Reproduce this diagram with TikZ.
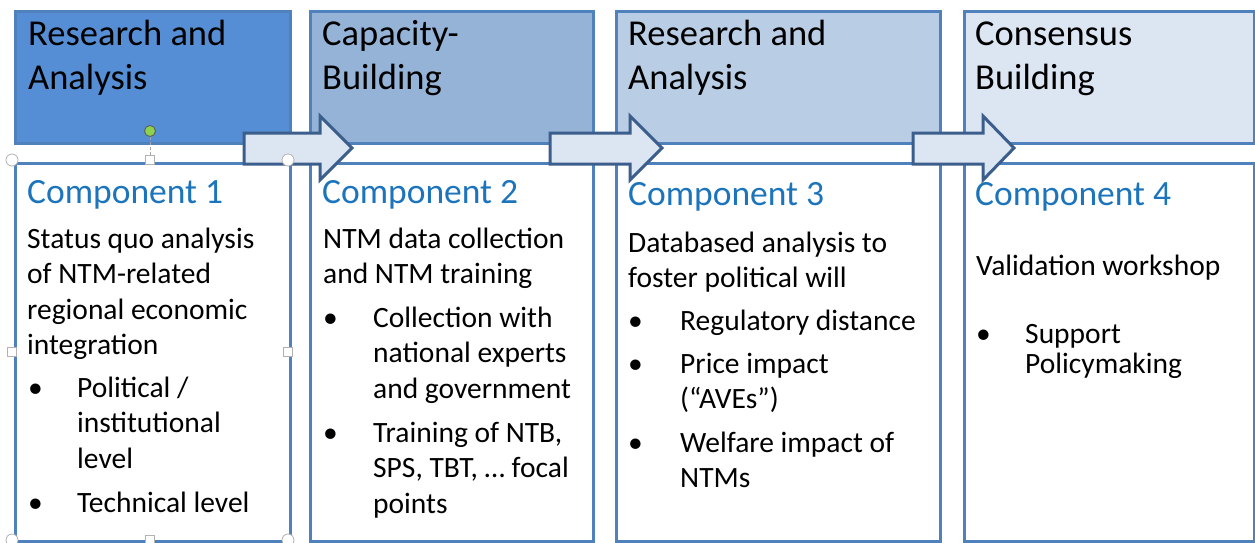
\documentclass[tikz,border=0pt]{standalone}
\usepackage{fontspec}
\setmainfont{Carlito}
\usetikzlibrary{positioning}
\definecolor{frameblue}{HTML}{4F81BD}
\definecolor{headA}{HTML}{558ED5}
\definecolor{headB}{HTML}{95B3D7}
\definecolor{headC}{HTML}{B9CDE5}
\definecolor{headD}{HTML}{DCE6F2}
\definecolor{compblue}{HTML}{1C75BC}
\definecolor{arrowline}{HTML}{3B5E8C}
\definecolor{arrowfill}{HTML}{DCE6F2}
\definecolor{grip}{HTML}{8DD14F}
% multi-line nodes are placed at the baseline of their last line
\tikzset{
  head/.style={draw=frameblue, line width=3pt, anchor=north west, inner sep=0pt},
  panel/.style={draw=frameblue, line width=3pt, fill=white, anchor=north west, inner sep=0pt},
  headtext/.style={anchor=base west, inner sep=0pt, align=left, font=\fontsize{36.5}{44}\selectfont},
  comptext/.style={anchor=base west, inner sep=0pt, text=compblue, font=\fontsize{35.5}{40}\selectfont},
  bodytext/.style={anchor=base west, inner sep=0pt, align=left, font=\fontsize{29.5}{35.5}\selectfont},
  flowarrow/.style={draw=arrowline, fill=arrowfill, line width=3pt, line join=miter},
  handle/.style={draw=gray!60, fill=white, line width=0.8pt}
}
\begin{document}
\begin{tikzpicture}[x=1pt,y=-1pt]
   \useasboundingbox (0,0) rectangle (1255,542);
   % phase headers
   \node[head, fill=headA, minimum width=275pt, minimum height=132pt] (h1) at (13.5,9.5) {};
   \node[head, fill=headB, minimum width=283pt, minimum height=132pt] (h2) at (308.5,9.5) {};
   \node[head, fill=headC, minimum width=324pt, minimum height=132pt] (h3) at (614.5,9.5) {};
   \node[head, fill=headD, minimum width=290pt, minimum height=132pt] (h4) at (962.5,9.5) {};
   \node[headtext] (t1) at (28,89) {Research and\\Analysis};
   \node[headtext] (t2) at (322,89) {Capacity-\\Building};
   \node[headtext] (t3) at (628,89) {Research and\\Analysis};
   \node[headtext] (t4) at (975,89) {Consensus\\Building};
   % component panels
   \node[panel, minimum width=275pt, minimum height=378pt] (c1) at (13.5,161.5) {};
   \node[panel, minimum width=283pt, minimum height=378pt] (c2) at (308.5,161.5) {};
   \node[panel, minimum width=324pt, minimum height=378pt] (c3) at (614.5,161.5) {};
   \node[panel, minimum width=290pt, minimum height=378pt] (c4) at (962.5,161.5) {};
   % component 1
   \node[comptext] (k1) at (27,203) {Component 1};
   \node[bodytext] (p1) at (27,354.5) {Status quo analysis\\of NTM-related\\regional economic\\integration};
   \node[bodytext] (b1a) at (28,397) {•};
   \node[bodytext] (i1a) at (77,468) {Political /\\institutional\\level};
   \node[bodytext] (b1b) at (28,512) {•};
   \node[bodytext] (i1b) at (77,512) {Technical level};
   % component 2
   \node[comptext] (k2) at (322,203) {Component 2};
   \node[bodytext] (p2) at (323,283.5) {NTM data collection\\and NTM training};
   \node[bodytext] (b2a) at (323,327) {•};
   \node[bodytext] (i2a) at (373,398) {Collection with\\national experts\\and government};
   \node[bodytext] (b2b) at (323,442) {•};
   \node[bodytext] (i2b) at (373,513) {Training of NTB,\\SPS, TBT, … focal\\points};
   % component 3
   \node[comptext] (k3) at (628,205) {Component 3};
   \node[bodytext] (p3) at (628,287.5) {Databased analysis to\\foster political will};
   \node[bodytext] (b3a) at (628,330) {•};
   \node[bodytext] (i3a) at (680,330) {Regulatory distance};
   \node[bodytext] (b3b) at (628,373) {•};
   \node[bodytext] (i3b) at (680,408.5) {Price impact\\(“AVEs”)};
   \node[bodytext] (b3c) at (628,452) {•};
   \node[bodytext] (i3c) at (680,487.5) {Welfare impact of\\NTMs};
   % component 4
   \node[comptext] (k4) at (975,205) {Component 4};
   \node[bodytext] (p4) at (976,275) {Validation workshop};
   \node[bodytext] (b4a) at (976,343) {•};
   \node[bodytext, font=\fontsize{29.5}{30}\selectfont] (i4a) at (1025,373) {Support\\Policymaking};
   % block arrows
   \foreach \a/\b/\t in {244/320/352, 550/630/662, 913/983/1014}
      \draw[flowarrow] (\a,133) -- (\b,133) -- (\b,116) -- (\t,148) -- (\b,180) -- (\b,164) -- (\a,164) -- cycle;
   % selection handles on the first panel
   \draw[gray!70, densely dashed] (150,137) -- (150,156);
   \filldraw[draw=gray!70!black, fill=grip, line width=0.8pt] (150,131) circle (5.5);
   \foreach \p in {(12,160), (288,160), (12,540), (288,540)}
      \draw[handle] \p circle (6);
   \foreach \p in {(150,160), (12,352), (288,352), (150,540)}
      \draw[handle] \p ++(-4.5,-4.5) rectangle ++(9,9);
\end{tikzpicture}
\end{document}
